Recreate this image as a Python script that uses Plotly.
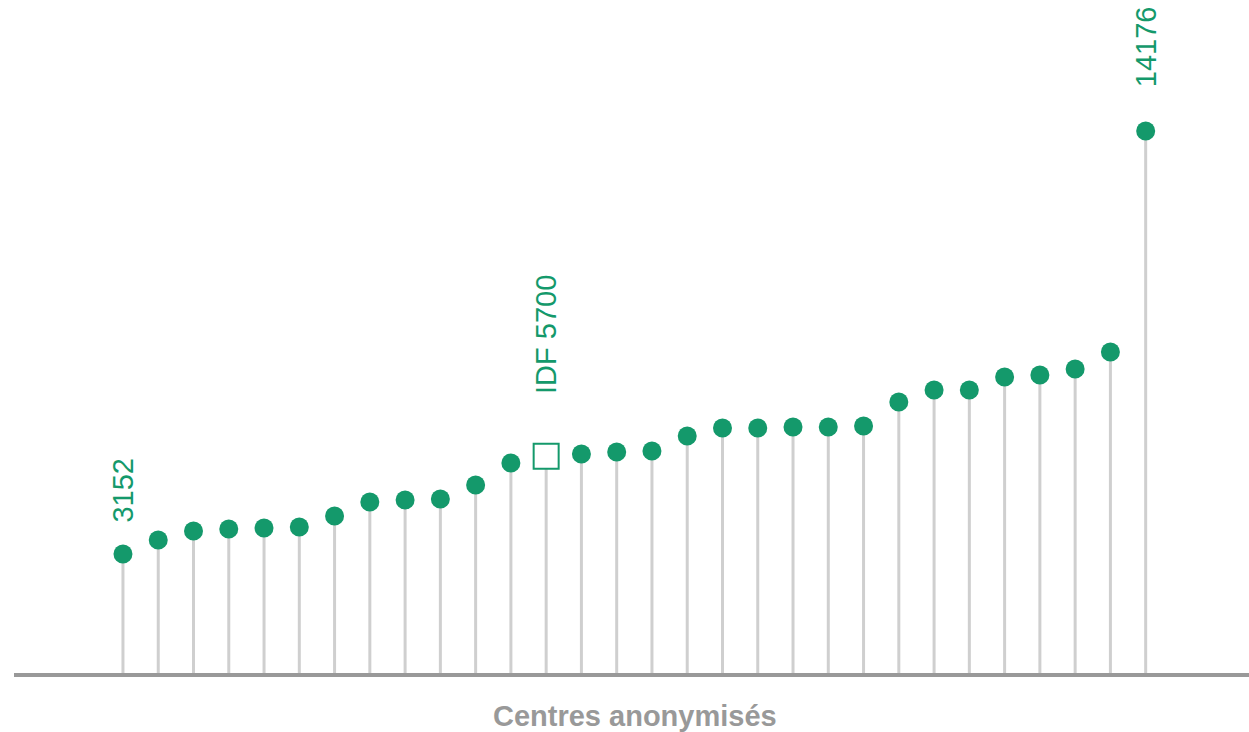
import plotly.graph_objects as go

centres = list(range(1, 31))
values = [3152, 3518, 3753, 3805, 3831, 3857, 4144, 4509, 4561, 4587,
          4952, 5525, 5700, 5760, 5812, 5838, 6229, 6437, 6437, 6463,
          6463, 6489, 7115, 7428, 7428, 7766, 7819, 7975, 8418, 14176]
idf_index = 12
labels = {0: "3152", 12: "IDF 5700", 29: "14176"}

GREEN = "#14996b"
x_idx = list(range(len(values)))

# stems
sx, sy = [], []
for i, v in zip(x_idx, values):
    sx += [i, i, None]
    sy += [0, v, None]

fig = go.Figure()
fig.add_trace(go.Scatter(x=sx, y=sy, mode="lines",
                         line=dict(color="#cfcfcf", width=3),
                         hoverinfo="skip", showlegend=False))
cx = [i for i in x_idx if i != idf_index]
cy = [values[i] for i in cx]
fig.add_trace(go.Scatter(x=cx, y=cy, mode="markers",
                         marker=dict(color=GREEN, size=19, line=dict(width=0)),
                         showlegend=False))
fig.add_trace(go.Scatter(x=[idf_index], y=[values[idf_index]], mode="markers",
                         marker=dict(symbol="square", color="white", size=25,
                                     line=dict(color=GREEN, width=2)),
                         showlegend=False))

yshifts = {0: 30, 12: 60, 29: 42}
for i, txt in labels.items():
    fig.add_annotation(x=i, y=values[i], text=txt, showarrow=False,
                       textangle=-90, yanchor="bottom", xanchor="center",
                       yshift=yshifts[i],
                       font=dict(family="Liberation Sans, Arial", size=29, color=GREEN))

fig.add_shape(type="line", xref="paper", x0=0, x1=1, yref="y", y0=0, y1=0,
              line=dict(color="#999999", width=4))

fig.add_annotation(xref="paper", yref="paper", x=0.5025, y=0,
                   yanchor="top", yshift=-8, text="<b>Centres anonymisés</b>",
                   showarrow=False,
                   font=dict(family="Liberation Sans, Arial", size=29, color="#999999"))

fig.update_xaxes(range=[-3.09, 31.93], visible=False)
fig.update_yaxes(range=[-391, 17592], visible=False)
fig.update_layout(width=1249, height=732,
                  margin=dict(l=14, r=0, t=0, b=42),
                  plot_bgcolor="white", paper_bgcolor="white")

fig.write_html("out.html",
               config={"displayModeBar": False},
               post_script="document.body.style.margin='0';"
                           "document.body.style.overflow='hidden';")
